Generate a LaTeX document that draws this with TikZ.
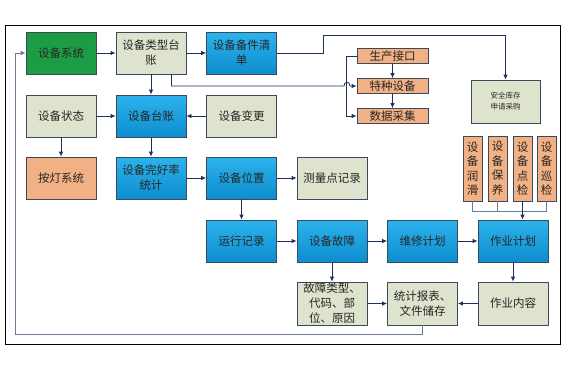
\documentclass[tikz,border=0pt]{standalone}
\usepackage{fontspec}
\setmainfont{Noto Sans CJK SC}
\usetikzlibrary{positioning,arrows.meta}
\definecolor{cLine}{HTML}{3A4A5C}
\definecolor{cWire}{HTML}{1F2F5C}
\definecolor{cLoop}{HTML}{6B7A99}
\definecolor{cGreen}{HTML}{1E9C45}
\definecolor{cBlueTop}{HTML}{2CB3EC}
\definecolor{cBlueBot}{HTML}{0E8DCF}
\definecolor{cBeige}{HTML}{DEE3CD}
\definecolor{cOrange}{HTML}{F2B184}

\begin{document}
\begin{tikzpicture}[x=1pt,y=-1pt,
  box/.style={draw=cLine,line width=0.8pt,minimum width=70pt,minimum height=42pt,inner sep=1pt,align=center,text=black!85,font=\fontsize{11.5}{15}\selectfont},
  greenbox/.style={box,fill=cGreen},
  bluebox/.style={box,top color=cBlueTop,bottom color=cBlueBot},
  palebox/.style={box,fill=cBeige},
  orangebox/.style={box,fill=cOrange},
  tagbox/.style={draw=cLine,line width=0.8pt,fill=cOrange,minimum width=71pt,minimum height=15pt,inner sep=0pt,text=black!85,font=\fontsize{11.5}{13}\selectfont},
  colbox/.style={draw=cLine,line width=0.8pt,fill=cOrange,minimum width=19pt,minimum height=65pt,inner sep=0pt,align=center,text=black!85,font=\fontsize{11.5}{14.5}\selectfont},
  wire/.style={draw=cWire,line width=0.8pt,-{Latex[length=5pt,width=4.5pt]}}]
  \useasboundingbox (0,0) rectangle (571,372);
  \draw[line width=1pt] (5,25) rectangle (560,344);
  % first row
  \node[greenbox] (sys) at (61,53) {设备系统};
  \node[palebox] (typ) at (151,53) {设备类型台\\账};
  \node[bluebox] (spare) at (241.5,53) {设备备件清\\单};
  \node[tagbox] (prod) at (392.5,56) {生产接口};
  \node[tagbox] (spec) at (392.5,86) {特种设备};
  \node[tagbox] (data) at (392.5,116) {数据采集};
  \node[palebox,minimum width=69pt,minimum height=43pt,font=\fontsize{7.5}{11}\selectfont] (safe) at (505.5,101.5) {安全库存\\申请采购};
  % second and third row
  \node[palebox] (state) at (61,116) {设备状态};
  \node[bluebox] (ledger) at (151,116) {设备台账};
  \node[palebox] (change) at (241.5,116) {设备变更};
  \node[orangebox] (lamp) at (61,178) {按灯系统};
  \node[bluebox] (rate) at (151,178) {设备完好率\\统计};
  \node[bluebox] (pos) at (241.5,178) {设备位置};
  \node[palebox] (meas) at (332,178) {测量点记录};
  \foreach \x/\n/\a/\b in {472.5/lub/润/滑, 497.5/mnt/保/养, 522.5/chk/点/检, 546.5/pat/巡/检}
    \node[colbox] (\n) at (\x,168.5) {设\\备\\\a\\\b};
  % lower rows
  \node[bluebox] (run) at (241.5,241) {运行记录};
  \node[bluebox] (fault) at (332,241) {设备故障};
  \node[bluebox] (repair) at (422.5,241) {维修计划};
  \node[bluebox] (job) at (513,241) {作业计划};
  \node[palebox,minimum height=43pt] (ftype) at (332,303.5) {故障类型、\\代码、部\\位、原因};
  \node[palebox,minimum height=43pt] (report) at (422.5,303.5) {统计报表、\\文件储存};
  \node[palebox,minimum height=43pt] (content) at (513,303.5) {作业内容};
  % connectors
  \coordinate (bend) at (323,35);
  \draw[wire] (sys) -- (typ);
  \draw[wire] (typ) -- (spare);
  \draw[wire] (spare.east) -| (bend) -| (safe.north);
  \draw[wire] ([xshift=-15pt]typ.south east) |- (344,86) .. controls (344,81) and (350,81) .. (350,86) -- (spec.west);
  \draw[wire] (prod.west) -- ++(-10,0) |- (data.west);
  \draw[wire] (prod) -- (spec);
  \draw[wire] (spec) -- (data);
  \draw[wire] (typ) -- (ledger);
  \draw[wire] (state) -- (ledger);
  \draw[wire] (change) -- (ledger);
  \draw[wire] (state) -- (lamp);
  \draw[wire] (ledger) -- (rate);
  \draw[wire] (rate) -- (pos);
  \draw[wire] (pos) -- (meas);
  \draw[wire] (pos) -- (run);
  \draw[wire] (run) -- (fault);
  \draw[wire] (fault) -- (repair);
  \draw[wire] (repair) -- (job);
  \draw[wire] (fault) -- (ftype);
  \draw[wire] (ftype) -- (report);
  \draw[wire] (content) -- (report);
  \draw[wire] (job) -- (content);
  \draw[draw=cLoop,line width=0.8pt] (lub.south) -- ++(0,10) -| (pat.south);
  \draw[draw=cLoop,line width=0.8pt] (mnt.south) -- ++(0,10);
  \draw[wire] (chk.south) -- (chk.south |- job.north);
  \draw[wire,draw=cLoop] (report.south) |- (15,334) |- (sys.west);
\end{tikzpicture}
\end{document}
